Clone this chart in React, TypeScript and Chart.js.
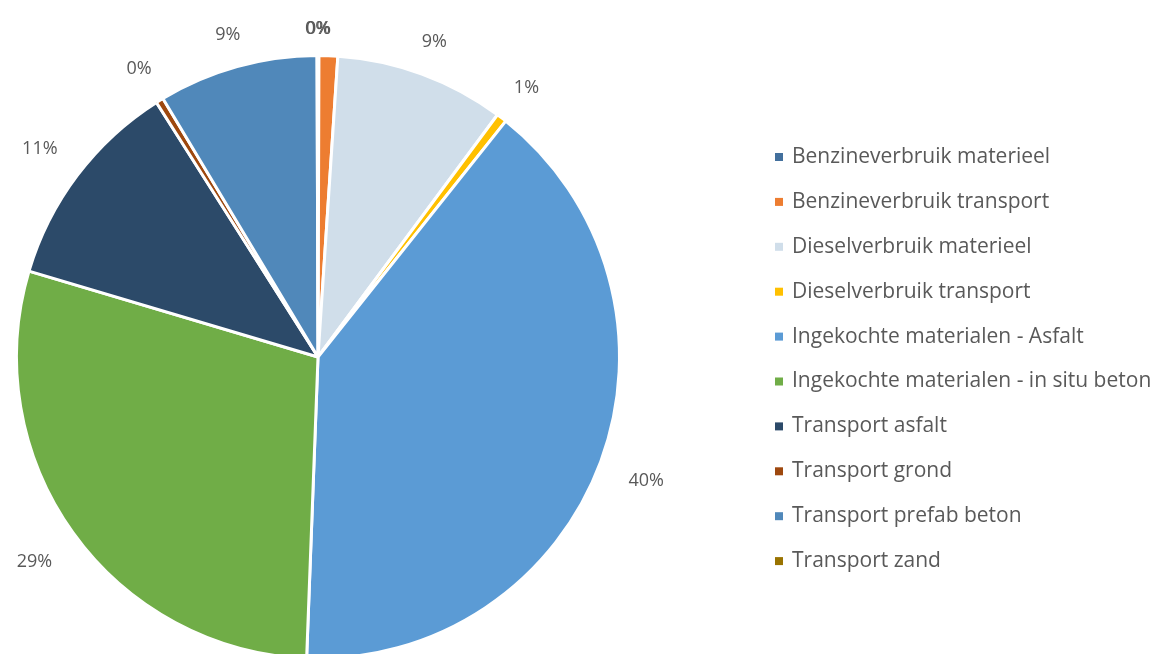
import React, { useEffect, useRef } from "react";
import { Chart, registerables } from "chart.js";

Chart.register(...registerables);

const categories = [
  "Benzineverbruik materieel",
  "Benzineverbruik transport",
  "Dieselverbruik materieel",
  "Dieselverbruik transport",
  "Ingekochte materialen - Asfalt",
  "Ingekochte materialen - in situ beton",
  "Transport asfalt",
  "Transport grond",
  "Transport prefab beton",
  "Transport zand",
];

const values = [0.05, 1.0, 9.1, 0.55, 39.9, 29.0, 11.4, 0.4, 8.55, 0.05];

const colors = [
  "#43709D",
  "#ED7D31",
  "#D0DEEA",
  "#FFC000",
  "#5B9BD5",
  "#70AD47",
  "#2C4A69",
  "#9E480E",
  "#5088BA",
  "#997300",
];

const labelVisible = [true, false, true, true, true, true, true, true, true, true];

const FONT = "'Open Sans', 'Noto Sans', sans-serif";
const TEXT_COLOR = "#595959";

const labelPlugin = {
  id: "outsideLabels",
  afterDatasetsDraw(chart: any) {
    const ctx = chart.ctx;
    const meta = chart.getDatasetMeta(0);
    const data = chart.data.datasets[0].data as number[];
    const total = data.reduce((a, b) => a + b, 0);
    ctx.save();
    ctx.font = `18px ${FONT}`;
    ctx.fillStyle = TEXT_COLOR;
    ctx.textAlign = "center";
    ctx.textBaseline = "middle";
    meta.data.forEach((arc: any, i: number) => {
      if (!labelVisible[i]) return;
      const { x, y, startAngle, endAngle, outerRadius } = arc.getProps(
        ["x", "y", "startAngle", "endAngle", "outerRadius"],
        true
      );
      const mid = (startAngle + endAngle) / 2;
      const txt = Math.round((data[i] / total) * 100) + "%";
      const w = ctx.measureText(txt).width;
      const cos = Math.cos(mid);
      const sin = Math.sin(mid);
      const d = outerRadius + 19 + Math.abs(cos) * (w / 2 + 10) + Math.abs(sin) * 10;
      ctx.fillText(txt, x + cos * d, y + sin * d + 2);
    });
    ctx.restore();
  },
};

const legendPlugin = {
  id: "customLegend",
  afterDraw(chart: any) {
    const ctx = chart.ctx;
    const labels = chart.data.labels as string[];
    const bg = chart.data.datasets[0].backgroundColor as string[];
    ctx.save();
    ctx.font = `21px ${FONT}`;
    ctx.textBaseline = "middle";
    ctx.textAlign = "left";
    labels.forEach((lab, i) => {
      const cy = 157 + i * 44.9;
      ctx.fillStyle = bg[i];
      ctx.fillRect(775, cy - 4, 8, 8);
      ctx.fillStyle = TEXT_COLOR;
      ctx.fillText(lab, 792, cy);
    });
    ctx.restore();
  },
};

export default function App() {
  const ref = useRef<HTMLCanvasElement | null>(null);
  useEffect(() => {
    document.body.style.margin = "0";
    if (!ref.current) return;
    const chart = new Chart(ref.current, {
      type: "pie",
      data: {
        labels: categories,
        datasets: [
          {
            data: values,
            backgroundColor: colors,
            borderColor: "#FFFFFF",
            borderWidth: 3,
          },
        ],
      },
      options: {
        animation: false,
        responsive: false,
        maintainAspectRatio: false,
        layout: { padding: { left: 15, right: 547, top: 54, bottom: 20 } },
        plugins: {
          legend: { display: false },
          tooltip: { enabled: false },
        },
      },
      plugins: [labelPlugin, legendPlugin],
    });
    return () => chart.destroy();
  }, []);
  return (
    <div style={{ position: "fixed", left: 0, top: 0, width: 1168, height: 654, overflow: "hidden", background: "#fff" }}>
      <canvas ref={ref} width={1168} height={680} style={{ width: 1168, height: 680, display: "block" }} />
    </div>
  );
}
